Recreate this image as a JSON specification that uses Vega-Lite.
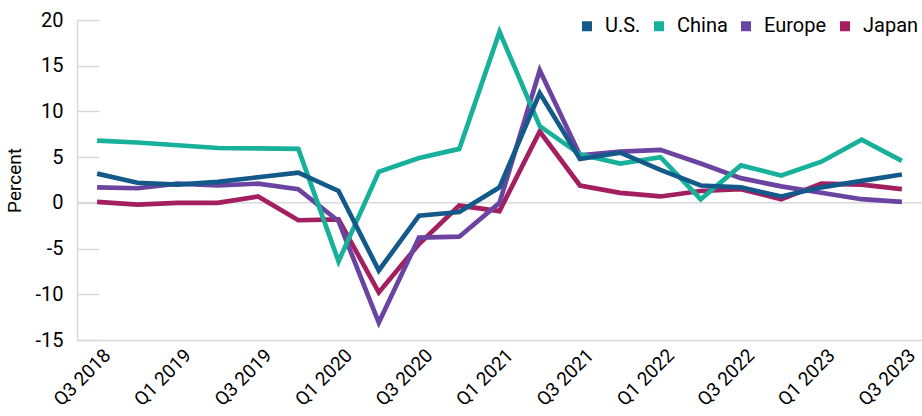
{
  "$schema": "https://vega.github.io/schema/vega-lite/v6.json",
  "autosize": {"type": "none"},
  "padding": {"left": 77, "top": 20, "right": 0, "bottom": 76},
  "width": 845,
  "height": 320,
  "background": "white",
  "config": {
    "font": "Roboto",
    "view": {"stroke": null}
  },
  "datasets": {
    "gdp": [
      {"q": "Q3 2018", "region": "Japan", "v": 0.1},
      {"q": "Q4 2018", "region": "Japan", "v": -0.2},
      {"q": "Q1 2019", "region": "Japan", "v": 0.0},
      {"q": "Q2 2019", "region": "Japan", "v": 0.0},
      {"q": "Q3 2019", "region": "Japan", "v": 0.7},
      {"q": "Q4 2019", "region": "Japan", "v": -1.9},
      {"q": "Q1 2020", "region": "Japan", "v": -1.8},
      {"q": "Q2 2020", "region": "Japan", "v": -9.8},
      {"q": "Q3 2020", "region": "Japan", "v": -4.5},
      {"q": "Q4 2020", "region": "Japan", "v": -0.3},
      {"q": "Q1 2021", "region": "Japan", "v": -0.9},
      {"q": "Q2 2021", "region": "Japan", "v": 7.8},
      {"q": "Q3 2021", "region": "Japan", "v": 1.9},
      {"q": "Q4 2021", "region": "Japan", "v": 1.1},
      {"q": "Q1 2022", "region": "Japan", "v": 0.7},
      {"q": "Q2 2022", "region": "Japan", "v": 1.3},
      {"q": "Q3 2022", "region": "Japan", "v": 1.5},
      {"q": "Q4 2022", "region": "Japan", "v": 0.4},
      {"q": "Q1 2023", "region": "Japan", "v": 2.1},
      {"q": "Q2 2023", "region": "Japan", "v": 2.0},
      {"q": "Q3 2023", "region": "Japan", "v": 1.5},

      {"q": "Q3 2018", "region": "Europe", "v": 1.7},
      {"q": "Q4 2018", "region": "Europe", "v": 1.6},
      {"q": "Q1 2019", "region": "Europe", "v": 2.1},
      {"q": "Q2 2019", "region": "Europe", "v": 1.9},
      {"q": "Q3 2019", "region": "Europe", "v": 2.1},
      {"q": "Q4 2019", "region": "Europe", "v": 1.5},
      {"q": "Q1 2020", "region": "Europe", "v": -2.0},
      {"q": "Q2 2020", "region": "Europe", "v": -13.1},
      {"q": "Q3 2020", "region": "Europe", "v": -3.8},
      {"q": "Q4 2020", "region": "Europe", "v": -3.7},
      {"q": "Q1 2021", "region": "Europe", "v": 0.0},
      {"q": "Q2 2021", "region": "Europe", "v": 14.5},
      {"q": "Q3 2021", "region": "Europe", "v": 5.2},
      {"q": "Q4 2021", "region": "Europe", "v": 5.6},
      {"q": "Q1 2022", "region": "Europe", "v": 5.8},
      {"q": "Q2 2022", "region": "Europe", "v": 4.3},
      {"q": "Q3 2022", "region": "Europe", "v": 2.7},
      {"q": "Q4 2022", "region": "Europe", "v": 1.8},
      {"q": "Q1 2023", "region": "Europe", "v": 1.1},
      {"q": "Q2 2023", "region": "Europe", "v": 0.4},
      {"q": "Q3 2023", "region": "Europe", "v": 0.1},

      {"q": "Q3 2018", "region": "China", "v": 6.8},
      {"q": "Q4 2018", "region": "China", "v": 6.6},
      {"q": "Q1 2019", "region": "China", "v": 6.3},
      {"q": "Q2 2019", "region": "China", "v": 6.0},
      {"q": "Q3 2019", "region": "China", "v": 5.95},
      {"q": "Q4 2019", "region": "China", "v": 5.9},
      {"q": "Q1 2020", "region": "China", "v": -6.4},
      {"q": "Q2 2020", "region": "China", "v": 3.4},
      {"q": "Q3 2020", "region": "China", "v": 4.9},
      {"q": "Q4 2020", "region": "China", "v": 5.9},
      {"q": "Q1 2021", "region": "China", "v": 18.7},
      {"q": "Q2 2021", "region": "China", "v": 8.4},
      {"q": "Q3 2021", "region": "China", "v": 5.3},
      {"q": "Q4 2021", "region": "China", "v": 4.3},
      {"q": "Q1 2022", "region": "China", "v": 5.0},
      {"q": "Q2 2022", "region": "China", "v": 0.4},
      {"q": "Q3 2022", "region": "China", "v": 4.1},
      {"q": "Q4 2022", "region": "China", "v": 3.0},
      {"q": "Q1 2023", "region": "China", "v": 4.5},
      {"q": "Q2 2023", "region": "China", "v": 6.9},
      {"q": "Q3 2023", "region": "China", "v": 4.6},

      {"q": "Q3 2018", "region": "U.S.", "v": 3.2},
      {"q": "Q4 2018", "region": "U.S.", "v": 2.2},
      {"q": "Q1 2019", "region": "U.S.", "v": 2.0},
      {"q": "Q2 2019", "region": "U.S.", "v": 2.3},
      {"q": "Q3 2019", "region": "U.S.", "v": 2.8},
      {"q": "Q4 2019", "region": "U.S.", "v": 3.3},
      {"q": "Q1 2020", "region": "U.S.", "v": 1.3},
      {"q": "Q2 2020", "region": "U.S.", "v": -7.4},
      {"q": "Q3 2020", "region": "U.S.", "v": -1.4},
      {"q": "Q4 2020", "region": "U.S.", "v": -1.0},
      {"q": "Q1 2021", "region": "U.S.", "v": 1.7},
      {"q": "Q2 2021", "region": "U.S.", "v": 12.0},
      {"q": "Q3 2021", "region": "U.S.", "v": 4.8},
      {"q": "Q4 2021", "region": "U.S.", "v": 5.5},
      {"q": "Q1 2022", "region": "U.S.", "v": 3.6},
      {"q": "Q2 2022", "region": "U.S.", "v": 1.9},
      {"q": "Q3 2022", "region": "U.S.", "v": 1.7},
      {"q": "Q4 2022", "region": "U.S.", "v": 0.7},
      {"q": "Q1 2023", "region": "U.S.", "v": 1.7},
      {"q": "Q2 2023", "region": "U.S.", "v": 2.4},
      {"q": "Q3 2023", "region": "U.S.", "v": 3.1}
    ],
    "zero": [{"y": 0}]
  },
  "layer": [
    {
      "data": {"name": "zero"},
      "mark": {"type": "rule", "color": "#D9D9D9", "strokeWidth": 1.5},
      "encoding": {
        "y": {"field": "y", "type": "quantitative", "scale": {"domain": [-15, 20]}}
      }
    },
    {
      "data": {"name": "gdp"},
      "mark": {"type": "line", "strokeWidth": 4.7, "strokeJoin": "miter", "strokeCap": "butt"},
      "encoding": {
        "x": {
          "field": "q",
          "type": "nominal",
          "sort": null,
          "scale": {"type": "point", "padding": 0.5},
          "axis": {
            "title": null,
            "values": ["Q3 2018", "Q1 2019", "Q3 2019", "Q1 2020", "Q3 2020", "Q1 2021", "Q3 2021", "Q1 2022", "Q3 2022", "Q1 2023", "Q3 2023"],
            "labelAngle": -45,
            "labelAlign": "right",
            "labelBaseline": "middle",
            "labelFontSize": 19,
            "labelColor": "#000000",
            "labelOffset": 10,
            "labelPadding": 12,
            "labelOverlap": false,
            "ticks": false,
            "domainColor": "#D9D9D9",
            "domainWidth": 1.5,
            "grid": false
          }
        },
        "y": {
          "field": "v",
          "type": "quantitative",
          "scale": {"domain": [-15, 20], "nice": false},
          "axis": {
            "title": "Percent",
            "titleFontSize": 19,
            "titleFontWeight": "normal",
            "titleColor": "#000000",
            "titlePadding": 10,
            "values": [-15, -10, -5, 0, 5, 10, 15, 20],
            "labelExpr": "'' + datum.value",
            "labelFontSize": 20,
            "labelColor": "#000000",
            "labelPadding": 36,
            "tickSize": -22,
            "tickColor": "#D9D9D9",
            "tickWidth": 1.5,
            "domainColor": "#D9D9D9",
            "domainWidth": 1.5,
            "grid": false
          }
        },
        "color": {
          "field": "region",
          "type": "nominal",
          "scale": {
            "domain": ["U.S.", "China", "Europe", "Japan"],
            "range": ["#135A8B", "#17B09B", "#6B44A1", "#A31F5F"]
          },
          "legend": {
            "title": null,
            "orient": "none",
            "direction": "horizontal",
            "legendX": 500,
            "legendY": -4,
            "padding": 0,
            "symbolType": "square",
            "symbolSize": 25,
            "symbolStrokeWidth": 5,
            "symbolOpacity": 1,
            "labelFontSize": 20,
            "labelColor": "#000000",
            "labelOffset": 8,
            "columnPadding": 5
          }
        }
      }
    }
  ]
}
